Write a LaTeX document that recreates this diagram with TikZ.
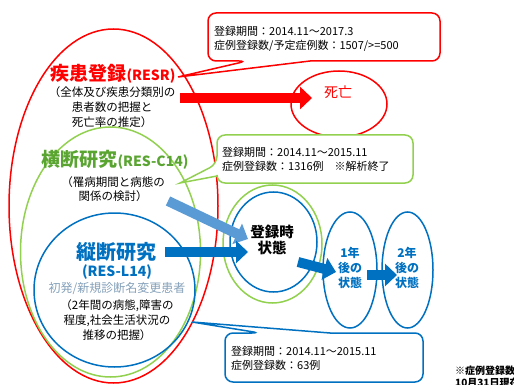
\documentclass[tikz,border=0pt]{standalone}
\usepackage{fontspec}
\setmainfont{Noto Sans CJK JP}
\usetikzlibrary{shapes.geometric,arrows.meta}
\definecolor{resred}{RGB}{255,0,0}
\definecolor{lgreen}{RGB}{146,208,80}
\definecolor{dgreen}{RGB}{90,165,50}
\definecolor{resblue}{RGB}{0,112,192}
\definecolor{lblue}{RGB}{91,155,213}
\definecolor{greyblue}{RGB}{132,160,185}
\begin{document}
\begin{tikzpicture}[x=1pt,y=-1pt,
    zone/.style ={ellipse, draw, line width=1.5pt, inner sep=0pt},
    lines/.style ={align=center, inner sep=0pt},
    memo/.style ={fill=white, line width=1.5pt},
    memotext/.style ={align=left, inner sep=0pt, anchor=west, font=\fontsize{11}{14}\selectfont},
    blockarrow/.style ={line width=10pt, -{Triangle[length=12pt,width=22pt]}}]
   \useasboundingbox (0,0) rectangle (514,385);
   % study circles
   \node[zone, draw=resred, minimum width=209, minimum height=354] (RESR) at (113.5,206) {};
   \node[zone, draw=lgreen, minimum width=180, minimum height=250] (C14) at (110.5,252) {};
   \node[zone, draw=resblue, minimum width=161, minimum height=154] (L14) at (114.5,290) {};
   \node[zone, draw=resred, minimum width=96, minimum height=66] (death) at (339,104) {};
   \node[zone, draw=lgreen, minimum width=99, minimum height=118] (baseG) at (272.5,244) {};
   \node[zone, draw=resblue, minimum width=87, minimum height=100] (base) at (273.5,242) {};
   \node[zone, draw=resblue, minimum width=54, minimum height=116] (year1) at (350,270) {};
   \node[zone, draw=resblue, minimum width=51, minimum height=116] (year2) at (407.5,270) {};
   % texts
   \node[lines, text=resred] (RESRt) at (113,74) {\bfseries\fontsize{19}{22}\selectfont 疾患登録\fontsize{14}{16}\selectfont(RESR)};
   \node[lines, font=\fontsize{11.5}{15}\selectfont] (RESRd) at (112,107) {（全体及び疾患分類別の\\患者数の把握と\\死亡率の推定）};
   \node[lines, text=dgreen] (C14t) at (115,160) {\bfseries\fontsize{19}{22}\selectfont 横断研究\fontsize{14}{16}\selectfont(RES-C14)};
   \node[lines, font=\fontsize{11.5}{14}\selectfont] (C14d) at (113,189) {（罹病期間と病態の\\関係の検討）};
   \node[lines, text=resblue, font=\bfseries\fontsize{20}{22}\selectfont] (L14t) at (116,252) {縦断研究};
   \node[lines, text=resblue, font=\bfseries\fontsize{14}{16}\selectfont] (L14c) at (117,272) {(RES-L14)};
   \node[lines, text=greyblue, font=\fontsize{12}{14}\selectfont] (L14p) at (117,289) {初発/新規診断名変更患者};
   \node[lines, font=\fontsize{11.5}{15}\selectfont] (L14d) at (117,320) {（2年間の病態,障害の\\程度,社会生活状況の\\推移の把握）};
   \node[lines, text=resred, font=\fontsize{14}{16}\selectfont] (deatht) at (338,92) {死亡};
   \node[lines, font=\bfseries\fontsize{14.5}{16}\selectfont] (baset) at (272,240) {登録時\\状態};
   \node[lines, text=resblue, font=\bfseries\fontsize{12}{15}\selectfont] (year1t) at (350,268) {1年\\後の\\状態};
   \node[lines, text=resblue, font=\bfseries\fontsize{12}{15}\selectfont] (year2t) at (407,268) {2年\\後の\\状態};
   % arrows
   \coordinate (r1) at (180,98);   \coordinate (r2) at (312,98);
   \coordinate (c1) at (168,201);  \coordinate (c2) at (248,239);
   \coordinate (l1) at (165,252);  \coordinate (l2) at (248,252);
   \coordinate (b1) at (298,262);  \coordinate (b2) at (336,272);
   \coordinate (y1) at (367,275);  \coordinate (y2) at (397,275);
   \draw[blockarrow, resred] (r1) to (r2);
   \draw[blockarrow, lblue] (c1) to (c2);
   \draw[blockarrow, resblue] (l1) to (l2);
   \draw[blockarrow, resblue] (b1) to (b2);
   \draw[blockarrow, resblue] (y1) to (y2);
   % callouts
   \draw[memo, draw=resred] (247,61) -- (178,77) -- (310,61) [rounded corners=8pt] -- (440,61) -- (440,13) -- (208,13) -- (208,61) -- cycle;
   \draw[memo, draw=lgreen] (217,164) -- (180,183) -- (217,176) [rounded corners=8pt] -- (217,183) -- (413,183) -- (413,135) -- (217,135) -- cycle;
   \draw[memo, draw=resblue] (260,333) -- (192,322) -- (330,333) [rounded corners=8pt] -- (423,333) -- (423,382) -- (225,382) -- (225,333) -- cycle;
   \node[memotext] (RESRm) at (214,39) {登録期間：2014.11～2017.3\\症例登録数/予定症例数：1507/>=500};
   \node[memotext] (C14m) at (222,159.5) {登録期間：2014.11～2015.11\\症例登録数：1316例　※解析終了};
   \node[memotext] (L14m) at (231,358) {登録期間：2014.11～2015.11\\症例登録数：63例};
   \node[memotext, font=\bfseries\fontsize{10}{12}\selectfont] (noteA) at (455,371) {※症例登録数};
   \node[memotext, font=\bfseries\fontsize{10}{12}\selectfont] (noteB) at (455,383) {10月31日現在};
 \end{tikzpicture}
\end{document}
